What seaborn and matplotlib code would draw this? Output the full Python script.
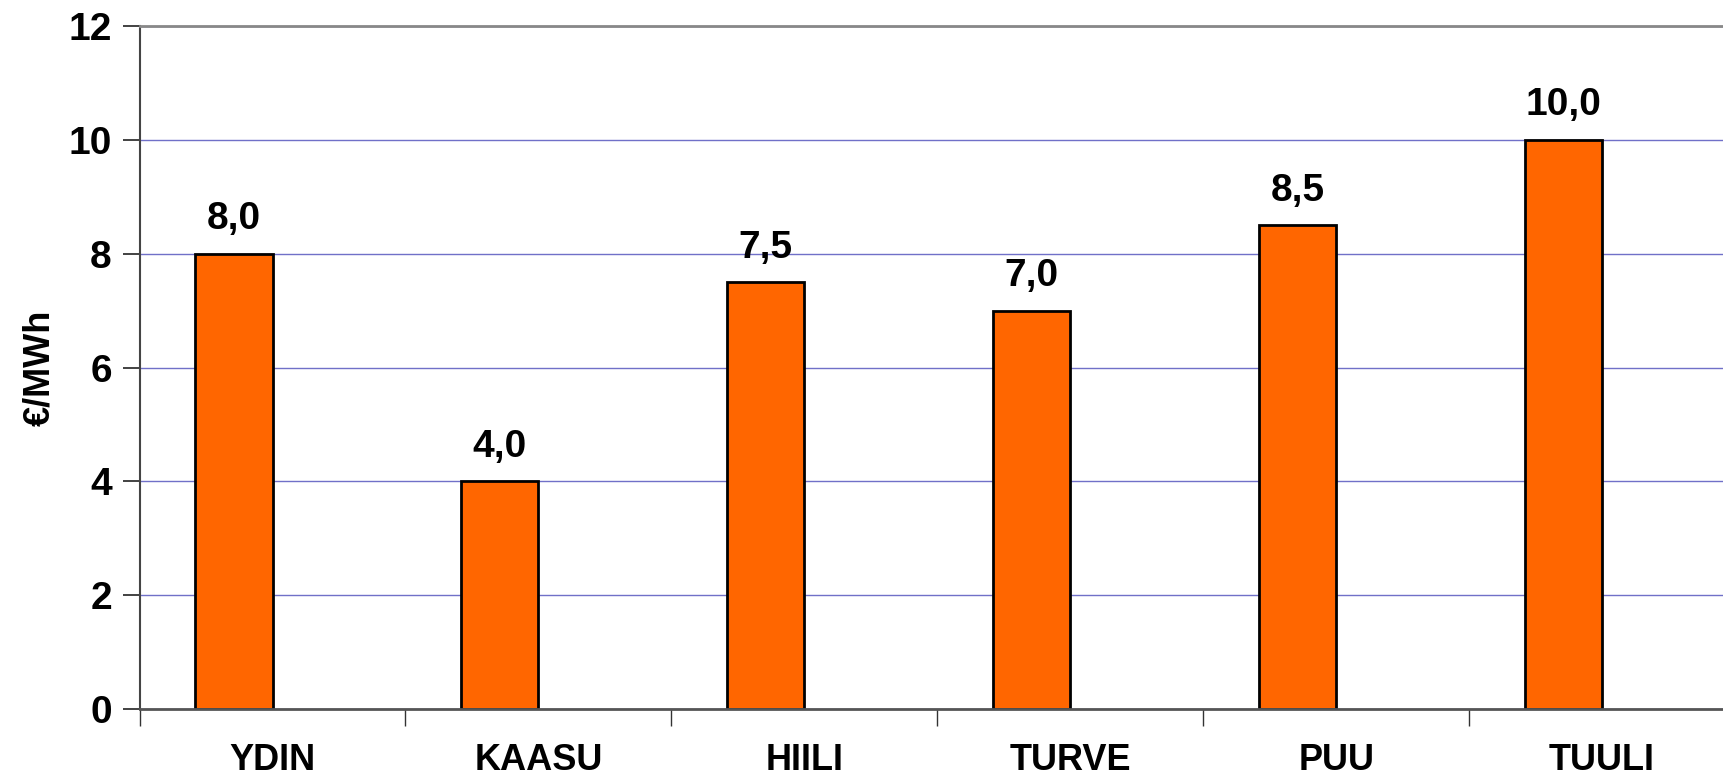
import numpy as np
import pandas as pd
import seaborn as sns
import matplotlib.pyplot as plt
from matplotlib.ticker import FixedLocator

lahteet = ['YDIN', 'KAASU', 'HIILI', 'TURVE', 'PUU', 'TUULI']
arvot = [8.0, 4.0, 7.5, 7.0, 8.5, 10.0]
sarjat = ['kustannus', 'tyhja']
y_ticks = [0, 2, 4, 6, 8, 10, 12]

# second series is empty, it only reserves the space to the right of each bar
df = pd.DataFrame({
    'lahde': lahteet * 2,
    'arvo': arvot + [np.nan] * len(lahteet),
    'sarja': [sarjat[0]] * len(lahteet) + [sarjat[1]] * len(lahteet),
})

sns.set_style('white')
plt.rcParams['font.family'] = ['Liberation Sans', 'DejaVu Sans']
plt.rcParams['font.weight'] = 'bold'
plt.rcParams['text.color'] = 'black'
plt.rcParams['xtick.color'] = 'black'
plt.rcParams['ytick.color'] = 'black'
plt.rcParams['axes.labelcolor'] = 'black'

fig = plt.figure(figsize=(17.23, 7.77), dpi=100)
ax = fig.add_axes([0.081, 0.088, 0.926, 0.878])

sns.barplot(data=df, x='lahde', y='arvo', hue='sarja', order=lahteet, hue_order=sarjat,
            palette=['#FF6600', '#FF6600'], saturation=1, width=0.58, dodge=True,
            errorbar=None, edgecolor='black', linewidth=2, legend=False, ax=ax)

# value labels with comma decimals
ax.bar_label(ax.containers[0], labels=[f'{v:.1f}'.replace('.', ',') for v in arvot],
             padding=12, fontsize=28, fontweight='bold', color='black')

ax.set_ylim(0, 12)
ax.set_xlim(-0.5, len(lahteet) - 0.5)
ax.set_yticks(y_ticks)
ax.set_yticklabels([str(t) for t in y_ticks], fontsize=28, fontweight='bold')
ax.yaxis.grid(True, color='#7070C8', linewidth=1.0)
ax.set_axisbelow(True)

# ticks between categories, labels in the middle
ax.xaxis.set_major_locator(FixedLocator(np.arange(len(lahteet) + 1) - 0.5))
ax.xaxis.set_minor_locator(FixedLocator(np.arange(len(lahteet))))
ax.set_xticklabels([], minor=False)
ax.set_xticklabels(lahteet, minor=True, fontsize=26, fontweight='bold')
ax.tick_params(axis='x', which='major', direction='out', length=12, width=1, color='#333333', bottom=True)
ax.tick_params(axis='x', which='minor', length=0, pad=25)
ax.tick_params(axis='y', direction='out', length=12, width=1.2, color='#222222', left=True, pad=8)

ax.set_xlabel('')
ax.set_ylabel('€/MWh', fontsize=26, fontweight='bold', labelpad=8)

ax.spines['top'].set_visible(True)
ax.spines['top'].set_color('#888888')
ax.spines['top'].set_linewidth(2)
ax.spines['right'].set_visible(False)
ax.spines['left'].set_color('#444444')
ax.spines['left'].set_linewidth(1.5)
ax.spines['bottom'].set_color('#555555')
ax.spines['bottom'].set_linewidth(2)

fig.savefig('out.png', dpi=100)
